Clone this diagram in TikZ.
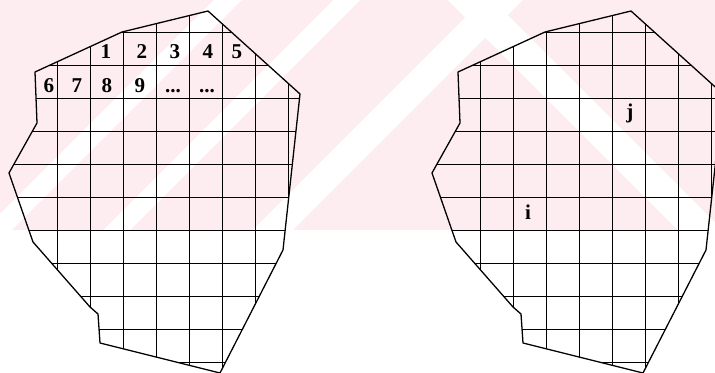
\documentclass[tikz,border=0pt]{standalone}
\usepackage{fontspec}
\setmainfont{Liberation Serif}
\definecolor{wmpink}{RGB}{253,236,240}

\begin{document}
\begin{tikzpicture}[x=0.03cm, y=-0.03cm,
    outline/.style={line width=1.1pt, line join=round},
    gridline/.style={line width=0.7pt},
    lbl/.style={font=\fontsize{18}{18}\selectfont\bfseries, anchor=base, inner sep=0pt}
]
    \useasboundingbox (0,0) rectangle (715,373);
    % faint striped background
    \begin{scope}
        \clip (0,0) rectangle (715,230);
        \fill[wmpink] (0,0) rectangle (715,230);
        \foreach \c/\w in {228/28, 347/27, 503/40}
            \fill[white] (\c-\w/2,0) -- (\c+\w/2,0) -- (\c+\w/2-230,230) -- (\c-\w/2-230,230) -- cycle;
        \foreach \c/\w in {470/45}
            \fill[white] (\c-\w/2,0) -- (\c+\w/2,0) -- (\c+\w/2+230,230) -- (\c-\w/2+230,230) -- cycle;
    \end{scope}
    % two copies of the gridded region
    \foreach \dx in {0,423} {
        \begin{scope}[shift={(\dx,0)}]
            \begin{scope}
                \clip (35,72) -- (122,32) -- (208,11) -- (300,94) -- (283,250) -- (220,373) -- (100,343)
                    -- (98,314) -- (90,307) -- (33,242) -- (9,173) -- (37,123) -- cycle;
                \foreach \gx in {57,90,...,288}
                    \draw[gridline] (\gx,0) -- (\gx,373);
                \foreach \gy in {32,65,...,362}
                    \draw[gridline] (0,\gy) -- (310,\gy);
            \end{scope}
            \draw[outline] (35,72) -- (122,32) -- (208,11) -- (300,94) -- (283,250) -- (220,373) -- (100,343)
                -- (98,314) -- (90,307) -- (33,242) -- (9,173) -- (37,123) -- cycle;
        \end{scope}
    }
    % numbering of the cells
    \node[lbl] (n1) at (106,59) {1};
    \node[lbl] (n2) at (142,59) {2};
    \node[lbl] (n3) at (175,59) {3};
    \node[lbl] (n4) at (208,59) {4};
    \node[lbl] (n5) at (237,59) {5};
    \node[lbl] (n6) at (49,93) {6};
    \node[lbl] (n7) at (77,93) {7};
    \node[lbl] (n8) at (107,93) {8};
    \node[lbl] (n9) at (140,93) {9};
    \node[lbl] (d1) at (173,93) {...};
    \node[lbl] (d2) at (207,93) {...};
    % two marked cells
    \node[lbl] (cj) at (630,119) {j};
    \node[lbl] (ci) at (528,220) {i};
\end{tikzpicture}
\end{document}
